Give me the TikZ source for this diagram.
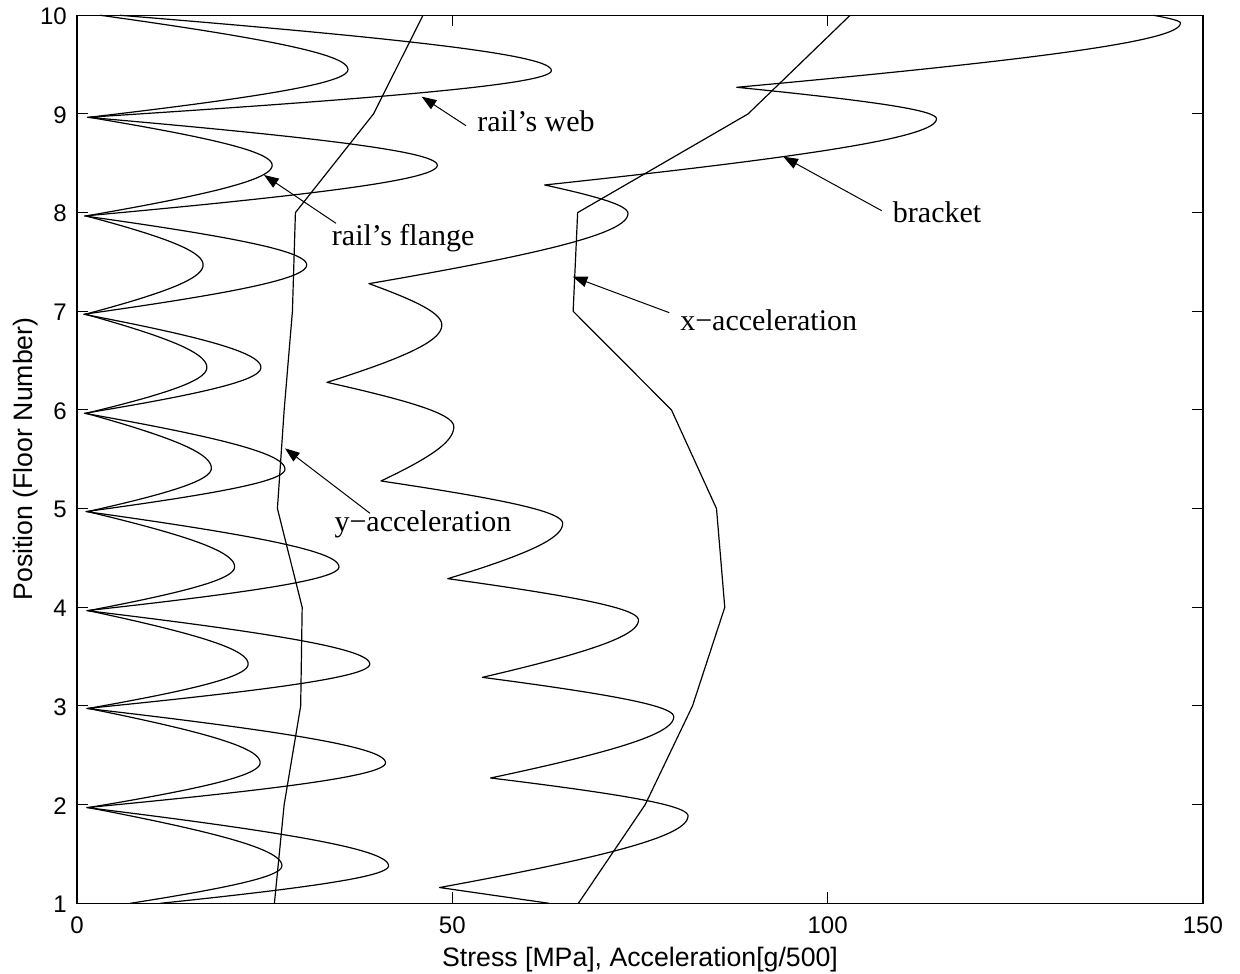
\documentclass[tikz,border=0pt]{standalone}
\usepackage{fontspec}
\setmainfont{Liberation Serif}
\newfontfamily\axfont{Liberation Sans}
\usetikzlibrary{arrows.meta}
\begin{document}
\begin{tikzpicture}[x=0.75pt,y=-0.75pt,
  curve/.style={line width=0.9pt, line join=round},
  axisline/.style={line width=1.1pt},
  tickmark/.style={line width=0.8pt},
  ticklabel/.style={font=\axfont\fontsize{18}{21}\selectfont, inner sep=0pt},
  axislabel/.style={font=\axfont\fontsize{20}{24}\selectfont, inner sep=0pt},
  note/.style={font=\fontsize{22.5}{26}\selectfont, inner sep=0pt, anchor=base west},
  pointer/.style={line width=0.75pt, -{Triangle[length=11pt,width=8pt]}}]
\useasboundingbox (0,0) rectangle (1240,974);
\fill[white] (0,0) rectangle (1240,974);

\begin{scope}[shift={(77,1001.97)}, x=5.6295pt, y=74.0025pt]
  % axis box and ticks
  \draw[axisline] (0,1) rectangle (150,10);
  \foreach \s in {50,100} {
    \draw[tickmark] (\s,1) -- (\s,1.1115);
    \draw[tickmark] (\s,10) -- (\s,9.8885);
  }
  \foreach \f in {2,...,9} {
    \draw[tickmark] (0,\f) -- (1.4655,\f);
    \draw[tickmark] (150,\f) -- (148.5345,\f);
  }
  % rail's flange
  \draw[curve] (7.1,1) \foreach \ax/\ay/\bx/\by/\cx/\cy in {
      7.1/1/27.3/1.38/1.5/1.97,
      1.5/1.97/24.4/2.425/1.5/2.975,
      1.5/2.975/22.8/3.425/1.5/3.966,
      1.5/3.966/21.0/4.41/1.4/4.97,
      1.4/4.97/17.9/5.41/1.2/5.966,
      1.2/5.966/17.3/6.43/1.1/6.97,
      1.1/6.97/16.8/7.47/1.2/7.966,
      1.2/7.966/26.0/8.48/1.6/8.966,
      1.6/8.966/36.1/9.45/3.1/10} {
    -- plot[domain=\ay:\by, samples=40] ({\bx-(\bx-\ax)*(sqrt((\x-\by)*(\x-\by)+0.49*(\by-\ay)*(\by-\ay))-0.7*(\by-\ay))/(0.5207*(\by-\ay))}, \x)
    -- plot[domain=\by:\cy, samples=40] ({\bx-(\bx-\cx)*(sqrt((\x-\by)*(\x-\by)+0.49*(\cy-\by)*(\cy-\by))-0.7*(\cy-\by))/(0.5207*(\cy-\by))}, \x)
  };
  % rail's web
  \draw[curve] (11.1,1) \foreach \ax/\ay/\bx/\by/\cx/\cy in {
      11.1/1/41.5/1.38/1.3/1.97,
      1.3/1.97/41.1/2.425/1.3/2.975,
      1.3/2.975/39.0/3.425/1.3/3.966,
      1.3/3.966/34.9/4.41/1.2/4.97,
      1.2/4.97/27.7/5.40/1.0/5.966,
      1.0/5.966/24.5/6.43/0.9/6.97,
      0.9/6.97/30.6/7.47/1.0/7.966,
      1.0/7.966/48.0/8.48/1.4/8.966,
      1.4/8.966/63.2/9.44/5.7/10} {
    -- plot[domain=\ay:\by, samples=40] ({\bx-(\bx-\ax)*(sqrt((\x-\by)*(\x-\by)+0.49*(\by-\ay)*(\by-\ay))-0.7*(\by-\ay))/(0.5207*(\by-\ay))}, \x)
    -- plot[domain=\by:\cy, samples=40] ({\bx-(\bx-\cx)*(sqrt((\x-\by)*(\x-\by)+0.49*(\cy-\by)*(\cy-\by))-0.7*(\cy-\by))/(0.5207*(\cy-\by))}, \x)
  };
  % bracket
  \draw[curve] (62.9,1) -- (48.3,1.16) \foreach \ax/\ay/\bx/\by/\cx/\cy in {
      48.3/1.16/81.4/1.885/55.1/2.27,
      55.1/2.27/79.5/2.89/54.0/3.29,
      54.0/3.29/74.8/3.87/49.4/4.29,
      49.4/4.29/64.7/4.85/40.5/5.28,
      40.5/5.28/50.2/5.83/33.3/6.28,
      33.3/6.28/48.6/6.86/38.9/7.28,
      38.9/7.28/73.4/7.99/62.3/8.28,
      62.3/8.28/114.5/8.95/87.9/9.27,
      87.9/9.27/147.0/9.92/143.4/10} {
    -- plot[domain=\ay:\by, samples=40] ({\bx-(\bx-\ax)*(sqrt((\x-\by)*(\x-\by)+0.49*(\by-\ay)*(\by-\ay))-0.7*(\by-\ay))/(0.5207*(\by-\ay))}, \x)
    -- plot[domain=\by:\cy, samples=40] ({\bx-(\bx-\cx)*(sqrt((\x-\by)*(\x-\by)+0.49*(\cy-\by)*(\cy-\by))-0.7*(\cy-\by))/(0.5207*(\cy-\by))}, \x)
  };
  % x-acceleration
  \draw[curve] (66.8,1) -- (75.7,2) -- (82.0,3) -- (86.3,4) -- (85.2,5) -- (79.2,6)
    -- (66.1,7) -- (66.7,8) -- (89.4,9) -- (103.0,10);
  % y-acceleration
  \draw[curve] (26.3,1) -- (27.6,2) -- (29.8,3) -- (30.0,4) -- (26.7,5) -- (27.6,6)
    -- (28.7,7) -- (29.1,8) -- (39.5,9) -- (46.1,10);
\end{scope}

% tick labels
\foreach \s in {0,50,100,150}
  \node[ticklabel, anchor=base] (xt\s) at ({77+7.506*\s},933) {\s};
\foreach \f in {1,...,10}
  \node[ticklabel, anchor=east] (yt\f) at (67,{903.3-98.67*(\f-1)+1}) {\f};

% axis labels
\node[axislabel, anchor=base] (xlab) at (640,966) {Stress [MPa], Acceleration[g/500]};
\node[axislabel, anchor=base, rotate=90] (ylab) at (32,459) {Position (Floor Number)};

% annotations
\node[note] (tweb) at (477,131.5) {rail’s web};
\node[note] (tflange) at (331.7,245) {rail’s flange};
\node[note] (tbracket) at (892.7,222.7) {bracket};
\node[note] (txacc) at (680,330.7) {x−acceleration};
\node[note] (tyacc) at (334.3,531.7) {y−acceleration};

\coordinate (webtail) at (466,125.7);    \coordinate (webtip) at (421.7,96.7);
\coordinate (flangetail) at (336,223.3); \coordinate (flangetip) at (264,175);
\coordinate (brackettail) at (881.7,210.7); \coordinate (brackettip) at (783.3,156.7);
\coordinate (xacctail) at (669.3,312.7);  \coordinate (xacctip) at (572.7,276.7);
\coordinate (yacctail) at (370,513.3);    \coordinate (yacctip) at (285,448.3);

\draw[pointer] (webtail) -- (webtip);
\draw[pointer] (flangetail) -- (flangetip);
\draw[pointer] (brackettail) -- (brackettip);
\draw[pointer] (xacctail) -- (xacctip);
\draw[pointer] (yacctail) -- (yacctip);
\end{tikzpicture}
\end{document}
